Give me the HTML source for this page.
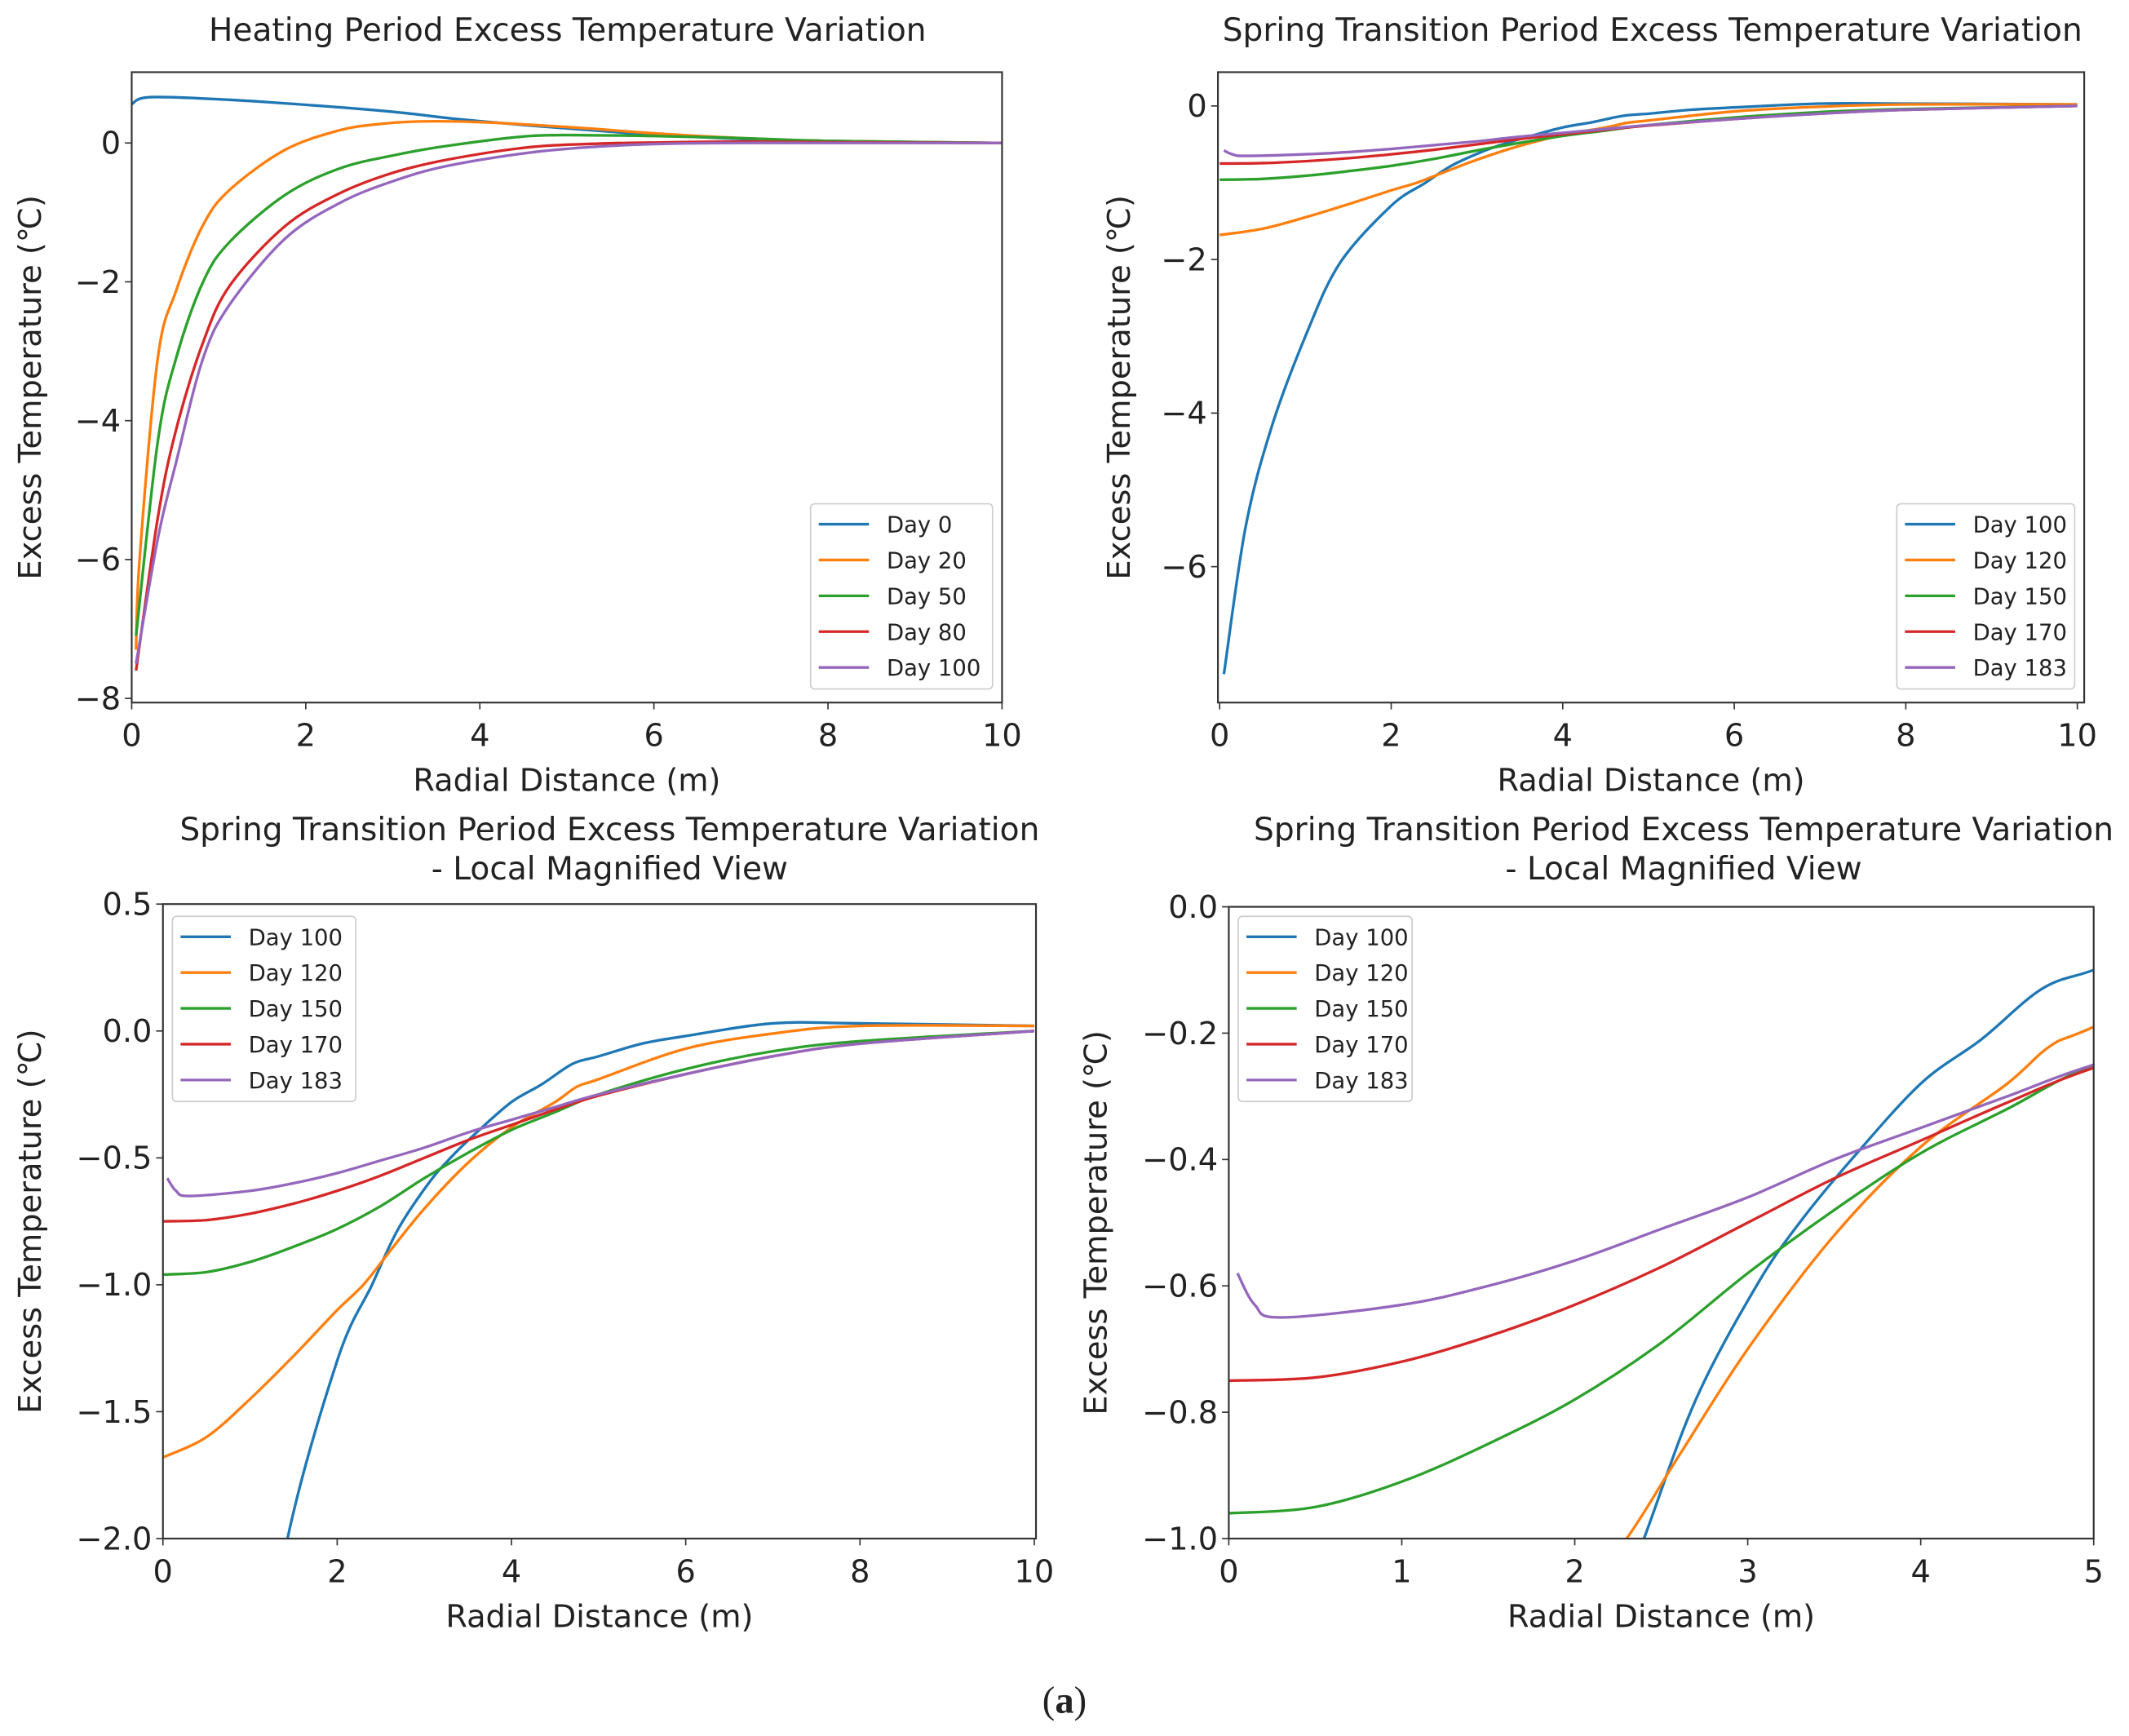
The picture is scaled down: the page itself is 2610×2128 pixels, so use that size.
<!DOCTYPE html>
<html><head><meta charset="utf-8"><style>
html,body{margin:0;padding:0;background:#fff;width:2610px;height:2128px;overflow:hidden;}
svg{display:block;}
text{font-family:"DejaVu Sans","Liberation Sans",sans-serif;fill:#222;}
</style></head><body>
<svg id="fig" width="2610" height="2128" viewBox="0 0 1568 1275" preserveAspectRatio="none"></svg>
<script>
const colors=["#1f77b4","#ff7f0e","#2ca02c","#d62728","#9467bd"];
const heatLabels=["Day 0","Day 20","Day 50","Day 80","Day 100"];
const springLabels=["Day 100","Day 120","Day 150","Day 170","Day 183"];
const heatX=[[0,0.2,1,2,3,3.7,4.5,5,6,7,8,10],
 [0.05,0.09,0.3,0.51,0.82,1.13,1.76,2.38,2.83,3.3,4,5,6,7,8,10],
 [0.05,0.3,0.51,0.82,1.13,1.76,2.38,3.0,3.63,4.57,5.37,6,7,8,10],
 [0.05,0.3,0.51,0.82,1.13,1.76,2.38,3.0,3.63,4.57,5.37,6.2,7,8,10],
 [0.05,0.3,0.51,0.82,1.13,1.76,2.38,3.0,3.63,4.57,5.37,6.2,7,8,10]];
const heatY=[[0.56,0.66,0.63,0.55,0.45,0.35,0.26,0.21,0.12,0.06,0.03,0],
 [-7.3,-6.0,-3.1,-2.13,-1.18,-0.67,-0.1,0.18,0.27,0.31,0.3,0.23,0.14,0.07,0.03,0],
 [-7.1,-4.3,-3.1,-2.0,-1.42,-0.75,-0.37,-0.18,-0.04,0.1,0.11,0.1,0.07,0.03,0],
 [-7.6,-5.4,-4.13,-2.87,-2.05,-1.2,-0.73,-0.43,-0.24,-0.06,-0.01,0.01,0.02,0.01,0],
 [-7.5,-5.7,-4.6,-3.1,-2.32,-1.38,-0.87,-0.55,-0.33,-0.14,-0.05,-0.01,0,0,0]];
const springX=[[0.05,0.3,0.6,1,1.4,2,2.4,2.7,3.05,3.3,3.6,4,4.35,4.7,5,5.5,6,7,8,10],
 [0,0.5,1,1.5,2,2.3,2.6,3,3.5,4,4.5,4.75,5,6,7,8,10],
 [0,0.5,1,1.5,2,2.5,3,3.5,4,4.5,5,6,7,8,10],
 [0,0.5,1,1.5,2,2.5,3,3.5,4,4.5,5,6,7,8,10],
 [0.05,0.15,0.3,1,1.5,2,2.5,3,3.5,4,4.5,5,6,7,8,10]];
const springY=[[-7.4,-5.5,-4.2,-3.0,-2.05,-1.3,-1.0,-0.78,-0.6,-0.5,-0.4,-0.28,-0.21,-0.13,-0.1,-0.05,-0.02,0.03,0.03,0.02],
 [-1.68,-1.6,-1.45,-1.28,-1.1,-1.0,-0.87,-0.7,-0.52,-0.38,-0.28,-0.22,-0.19,-0.07,-0.01,0.02,0.02],
 [-0.96,-0.95,-0.91,-0.85,-0.78,-0.69,-0.58,-0.48,-0.39,-0.32,-0.25,-0.15,-0.08,-0.04,0],
 [-0.75,-0.745,-0.72,-0.68,-0.63,-0.57,-0.5,-0.43,-0.37,-0.31,-0.255,-0.17,-0.1,-0.05,0],
 [-0.58,-0.63,-0.65,-0.63,-0.6,-0.56,-0.51,-0.46,-0.4,-0.35,-0.3,-0.25,-0.17,-0.1,-0.05,0]];
const xt10=[0,2,4,6,8,10], xt5=[0,1,2,3,4,5];
const yt1=[-8,-6,-4,-2,0], yt2=[-6,-4,-2,0], yt3=[-2.0,-1.5,-1.0,-0.5,0.0,0.5], yt4=[-1.0,-0.8,-0.6,-0.4,-0.2,0.0];

const NS="http://www.w3.org/2000/svg", svg=document.getElementById('fig');
function el(t,a,p){const e=document.createElementNS(NS,t);for(const k in a)e.setAttribute(k,a[k]);(p||svg).appendChild(e);return e;}
function smooth(P){let d='M'+P[0][0].toFixed(1)+','+P[0][1].toFixed(1);
 for(let i=0;i<P.length-1;i++){const p0=P[Math.max(0,i-1)],p1=P[i],p2=P[i+1],p3=P[Math.min(P.length-1,i+2)];
  const c1=[p1[0]+(p2[0]-p0[0])/6,p1[1]+(p2[1]-p0[1])/6],c2=[p2[0]-(p3[0]-p1[0])/6,p2[1]-(p3[1]-p1[1])/6];
  d+=` C${c1[0].toFixed(1)},${c1[1].toFixed(1)} ${c2[0].toFixed(1)},${c2[1].toFixed(1)} ${p2[0].toFixed(1)},${p2[1].toFixed(1)}`;}
 return d;}
let cid=0;
function panel(o){
 const g=el('g',{});
 
 
 const sx=v=>o.L+(v-o.x0)/(o.x1-o.x0)*(o.R-o.L);
 const sy=v=>o.T+(o.y1-v)/(o.y1-o.y0)*(o.B-o.T);
 const id='c'+(cid++);
 const cp=el('clipPath',{id:id},g);el('rect',{x:o.L,y:o.T,width:o.R-o.L,height:o.B-o.T},cp);
 o.X.forEach((xs,i)=>{
  const P=xs.map((x,j)=>[sx(x),sy(o.Y[i][j])]);
  const pl=el('path',{d:smooth(P),fill:'none',stroke:colors[i],'stroke-width':2,'clip-path':'url(#'+id+')','stroke-linejoin':'round'},g);
  
  
 });
 const fr=el('rect',{x:o.L,y:o.T,width:o.R-o.L,height:o.B-o.T,fill:'none',stroke:'#333','stroke-width':1.3},g);
 
 
 o.xt.forEach(v=>{const x=sx(v);el('line',{x1:x,x2:x,y1:o.B,y2:o.B+5,stroke:'#333'},g);
  const t=el('text',{x:x,y:o.B+32,'text-anchor':'middle','font-size':23},g);t.textContent=String(v);
  
  });
 o.yt.forEach(v=>{const y=sy(v);el('line',{x1:o.L-5,x2:o.L,y1:y,y2:y,stroke:'#333'},g);
  const t=el('text',{x:o.L-8,y:y+8,'text-anchor':'end','font-size':23},g);t.textContent=(o.fmt?v.toFixed(o.fmt):String(v)).replace('-','\u2212');
  
  });
 const xl=el('text',{x:(o.L+o.R)/2,y:o.B+65,'text-anchor':'middle','font-size':23},g);xl.textContent='Radial Distance (m)';
 
 
 const yl=el('text',{x:0,y:0,'text-anchor':'middle','font-size':23,transform:`translate(${o.ylx},${(o.T+o.B)/2}) rotate(-90)`},g);yl.textContent='Excess Temperature (\u2103)';
 
 
 o.title.forEach((s,i)=>{const t=el('text',{x:o.tx,y:o.ty+i*29,'text-anchor':'middle','font-size':23.5},g);t.textContent=s;
  
  });
 const lg=el('g',{},g);
 
 
 el('rect',{x:o.lx,y:o.ly,width:o.lw,height:136,fill:'#fff',stroke:'#ccc',rx:3},lg);
 o.labels.forEach((s,i)=>{const y=o.ly+15+i*26.3;
  el('line',{x1:o.lx+6,x2:o.lx+43,y1:y,y2:y,stroke:colors[i],'stroke-width':2},lg);
  const t=el('text',{x:o.lx+56,y:y+6,'font-size':16.5},lg);t.textContent=s;
  
  });
}
panel({name:'heating-chart',L:97,R:738,T:53,B:516,x0:0,x1:10,y0:-8.06,y1:1.02,X:heatX,Y:heatY,labels:heatLabels,xt:xt10,yt:yt1,ylx:30,tx:418,ty:30,title:['Heating Period Excess Temperature Variation'],lx:597,ly:370,lw:134});
panel({name:'spring-chart',L:897,R:1535,T:53,B:516,x0:-0.02,x1:10.08,y0:-7.77,y1:0.44,X:springX,Y:springY,labels:springLabels,xt:xt10,yt:yt2,ylx:832,tx:1217,ty:30,title:['Spring Transition Period Excess Temperature Variation'],lx:1397,ly:370,lw:131});
panel({name:'spring-magnified-chart',L:120,R:763,T:664,B:1130,x0:0,x1:10.02,y0:-2.0,y1:0.5,X:springX,Y:springY,labels:springLabels,xt:xt10,yt:yt3,fmt:1,ylx:30,tx:449,ty:617,title:['Spring Transition Period Excess Temperature Variation','- Local Magnified View'],lx:127,ly:673,lw:135});
panel({name:'spring-magnified-chart-2',L:905,R:1542,T:666,B:1130,x0:0,x1:5,y0:-1.0,y1:0.0,X:springX,Y:springY,labels:springLabels,xt:xt5,yt:yt4,fmt:1,ylx:815,tx:1240,ty:617,title:['Spring Transition Period Excess Temperature Variation','- Local Magnified View'],lx:912,ly:673,lw:128});
const cap=el('text',{x:784,y:1258,'text-anchor':'middle','font-size':28,style:'font-family:"Liberation Serif",serif'});
cap.innerHTML='(<tspan font-weight="bold">a</tspan>)';


</script>
</body></html>
